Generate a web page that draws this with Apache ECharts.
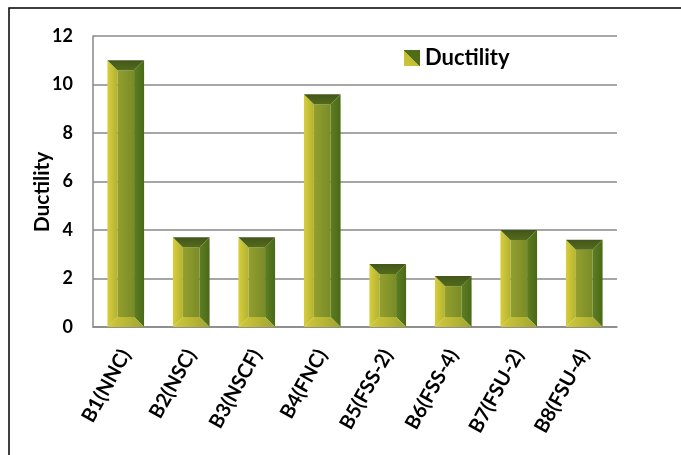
<!DOCTYPE html>
<html><head><meta charset="utf-8">
<script src="https://cdn.jsdelivr.net/npm/echarts@6/dist/echarts.min.js"></script>
<style>html,body{margin:0;padding:0;background:#fff}#c{width:681px;height:455px}</style>
</head><body><div id="c"></div>
<script>
const categories = ['B1(NNC)','B2(NSC)','B3(NSCF)','B4(FNC)','B5(FSS-2)','B6(FSS-4)','B7(FSU-2)','B8(FSU-4)'];
const ductility = [11.0, 3.7, 3.7, 9.6, 2.6, 2.1, 4.0, 3.6];
const yTicks = [0, 2, 4, 6, 8, 10, 12];

const FONT = 'Lato, "Open Sans", sans-serif';
const chart = echarts.init(document.getElementById('c'), null, {renderer:'canvas'});

function renderBevel(params, api) {
  const top = api.coord([api.value(0), api.value(1)]);
  const base = api.coord([api.value(0), 0]);
  const w = api.size([1, 0])[0] * 0.56;
  const L = top[0] - w/2, R = top[0] + w/2, T = top[1], B = base[1];
  const b = Math.min(10, (B - T)/2);
  const poly = (pts, fill) => ({type:'polygon', shape:{points:pts}, style:{fill:fill}});
  return {type:'group', children:[
    poly([[L+b,T+b],[R-b,T+b],[R-b,B-b],[L+b,B-b]], new echarts.graphic.LinearGradient(0,0,1,0,[{offset:0,color:'#939f2e'},{offset:1,color:'#7a8c28'}])),
    poly([[L,T],[L+b,T+b],[L+b,B-b],[L,B]], new echarts.graphic.LinearGradient(0,0,1,0,[{offset:0,color:'#d8ce3c'},{offset:1,color:'#b3b232'}])),
    poly([[R,T],[R,B],[R-b,B-b],[R-b,T+b]], new echarts.graphic.LinearGradient(0,0,1,0,[{offset:0,color:'#5e7e22'},{offset:1,color:'#4a6917'}])),
    poly([[L,T],[R,T],[R-b,T+b],[L+b,T+b]], new echarts.graphic.LinearGradient(0,0,0,1,[{offset:0,color:'#43561a'},{offset:1,color:'#536b1c'}])),
    poly([[L,B],[R,B],[R-b,B-b],[L+b,B-b]], new echarts.graphic.LinearGradient(0,0,1,0,[{offset:0,color:'#d3c93b'},{offset:1,color:'#9fa52f'}]))
  ]};
}

chart.setOption({
  animation:false,
  grid:{left:93, right:64, top:36, bottom:128},
  graphic:[
    {type:'rect', shape:{x:9, y:8, width:720, height:500}, style:{fill:'none', stroke:'#000', lineWidth:1.5}, z:100},
    {type:'text', x:42, y:192, rotation:Math.PI/2, style:{text:'Ductility', font:'bold 21px '+FONT, fill:'#000', align:'center', verticalAlign:'middle'}}
  ],
  legend:{
    left:404, top:47, padding:0, itemWidth:16, itemHeight:16, itemGap:7,
    data:[{name:'Ductility', icon:'rect', itemStyle:{color:new echarts.graphic.LinearGradient(0,1,1,0,[{offset:0,color:'#cdc43a'},{offset:0.5,color:'#c2bc36'},{offset:0.5,color:'#4f6c19'},{offset:1,color:'#4f6c19'}])}}],
    textStyle:{fontFamily:FONT, fontWeight:'bold', fontSize:22, color:'#000'}
  },
  xAxis:{
    type:'category', data:categories,
    axisLine:{lineStyle:{color:'#888', width:1.5}},
    axisTick:{show:false},
    axisLabel:{rotate:61, interval:0, margin:24, fontFamily:FONT, fontWeight:'bold', fontSize:20, color:'#000'}
  },
  yAxis:{
    type:'value', min:0, max:12, interval:2,
    axisLine:{show:true, lineStyle:{color:'#888', width:1.5}},
    axisTick:{show:false},
    splitLine:{lineStyle:{color:'#888', width:1.5}},
    axisLabel:{margin:20, fontFamily:FONT, fontWeight:'bold', fontSize:18, color:'#000',
      formatter:(v)=> yTicks.includes(v) ? String(v) : ''}
  },
  series:[{
    name:'Ductility', type:'custom', renderItem:renderBevel,
    encode:{x:0, y:1},
    data: ductility.map((v,i)=>[i, v])
  }]
});
</script></body></html>
